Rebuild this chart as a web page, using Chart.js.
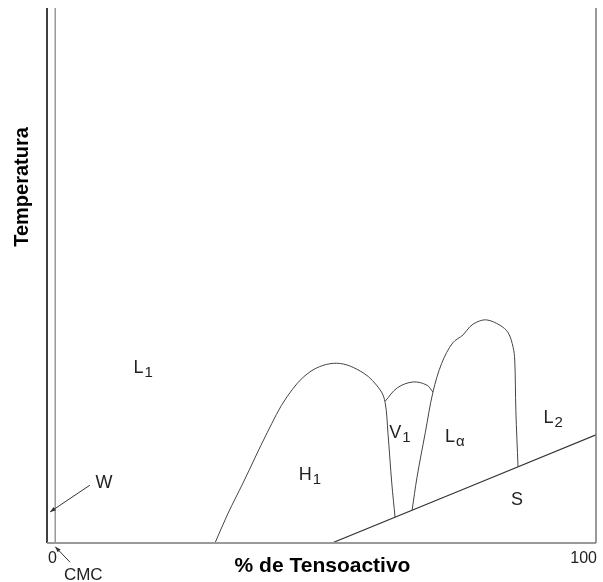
<!DOCTYPE html>
<html>
<head>
<meta charset="utf-8">
<script src="https://cdn.jsdelivr.net/npm/chart.js@4/dist/chart.umd.min.js"></script>
<style>
  html, body { margin: 0; padding: 0; background: #fff; }
</style>
</head>
<body>
<canvas id="phaseChart" width="603" height="582"></canvas>
<script>
// Diagrama de fases: x = % de tensoactivo, y = temperatura (escala relativa 0-100)
const xTickValues = [0, 100];
const xTickLabels = ['0', '100'];

const cmcLine = [{ x: 1.5, y: 0 }, { x: 1.5, y: 100 }];

// frontera de la fase hexagonal H1
const h1Boundary = [
  { x: 30.6, y: 0 }, { x: 33.0, y: 5.6 }, { x: 35.7, y: 11.2 }, { x: 40.1, y: 20.6 },
  { x: 43.7, y: 27.3 }, { x: 47.9, y: 32.0 }, { x: 52.8, y: 33.6 }, { x: 57.6, y: 31.8 },
  { x: 60.7, y: 28.6 }, { x: 61.6, y: 26.2 }, { x: 62.1, y: 20.6 }, { x: 62.8, y: 11.2 },
  { x: 63.4, y: 4.8 }
];

// techo de la fase cúbica V1
const v1Top = [
  { x: 61.6, y: 26.5 }, { x: 63.8, y: 29.0 }, { x: 66.7, y: 30.1 }, { x: 69.2, y: 29.5 },
  { x: 70.3, y: 28.2 }
];

// lado derecho de V1 y contorno de la fase laminar
const lamellarBoundary = [
  { x: 66.5, y: 6.1 }, { x: 67.4, y: 12.3 }, { x: 68.9, y: 20.6 }, { x: 70.3, y: 28.2 },
  { x: 71.9, y: 33.6 }, { x: 73.9, y: 37.4 }, { x: 75.8, y: 38.9 }, { x: 77.0, y: 40.4 },
  { x: 78.3, y: 41.3 }, { x: 80.1, y: 41.7 }, { x: 82.5, y: 40.7 }, { x: 84.0, y: 39.3 },
  { x: 84.9, y: 36.6 }, { x: 85.2, y: 34.2 }, { x: 85.4, y: 24.8 }, { x: 85.8, y: 14.2 }
];

// límite del sólido S
const solidLine = [{ x: 51.9, y: 0 }, { x: 100, y: 20.2 }];

// rótulos de las regiones: [texto, subíndice, x, y]
const phaseLabels = [
  ['L', '1', 17.5, 32.7],
  ['W', '', 10.4, 11.2],
  ['H', '1', 47.9, 12.7],
  ['V', '1', 64.3, 20.6],
  ['L', 'α', 74.3, 19.8],
  ['L', '2', 92.2, 23.4],
  ['S', '', 85.6, 8.0]
];

// flechas [desde, hasta]
const arrows = [
  [{ x: 7.8, y: 10.8 }, { x: 0.55, y: 5.8 }],
  [{ x: 4.2, y: -3.6 }, { x: 1.5, y: -0.7 }]
];

const FONT = '"Liberation Sans", Arial, sans-serif';

function curve(data, color, width) {
  return {
    data: data,
    showLine: true,
    borderColor: color,
    borderWidth: width,
    pointRadius: 0,
    tension: 0.35,
    fill: false
  };
}

const overlay = {
  id: 'overlay',
  afterDatasetsDraw(chart) {
    const { ctx, chartArea: a, scales: { x, y } } = chart;
    ctx.save();

    // ejes: izquierdo negro, inferior y derecho grises
    ctx.lineWidth = 1.5;
    ctx.strokeStyle = '#000';
    ctx.beginPath();
    ctx.moveTo(a.left, a.top);
    ctx.lineTo(a.left, a.bottom);
    ctx.stroke();
    ctx.strokeStyle = '#999';
    ctx.lineWidth = 2;
    ctx.beginPath();
    ctx.moveTo(a.left, a.bottom);
    ctx.lineTo(a.right, a.bottom);
    ctx.stroke();
    ctx.strokeStyle = '#777';
    ctx.lineWidth = 1.5;
    ctx.beginPath();
    ctx.moveTo(a.right, a.top);
    ctx.lineTo(a.right, a.bottom);
    ctx.stroke();

    // flechas
    ctx.strokeStyle = '#333';
    ctx.fillStyle = '#333';
    ctx.lineWidth = 1;
    arrows.forEach(([p0, p1]) => {
      const x0 = x.getPixelForValue(p0.x), y0 = y.getPixelForValue(p0.y);
      const x1 = x.getPixelForValue(p1.x), y1 = y.getPixelForValue(p1.y);
      ctx.beginPath();
      ctx.moveTo(x0, y0);
      ctx.lineTo(x1, y1);
      ctx.stroke();
      const ang = Math.atan2(y1 - y0, x1 - x0);
      ctx.beginPath();
      ctx.moveTo(x1, y1);
      ctx.lineTo(x1 - 6 * Math.cos(ang - 0.35), y1 - 6 * Math.sin(ang - 0.35));
      ctx.lineTo(x1 - 6 * Math.cos(ang + 0.35), y1 - 6 * Math.sin(ang + 0.35));
      ctx.closePath();
      ctx.fill();
    });

    // rótulos de fases con subíndice
    ctx.fillStyle = '#222';
    ctx.textBaseline = 'middle';
    ctx.textAlign = 'left';
    phaseLabels.forEach(([txt, sub, vx, vy]) => {
      ctx.font = '18px ' + FONT;
      const w0 = ctx.measureText(txt).width;
      ctx.font = '15px ' + FONT;
      const w1 = sub ? ctx.measureText(sub).width + 1 : 0;
      const px = x.getPixelForValue(vx) - (w0 + w1) / 2;
      const py = y.getPixelForValue(vy);
      ctx.font = '18px ' + FONT;
      ctx.fillText(txt, px, py);
      if (sub) {
        ctx.font = '15px ' + FONT;
        ctx.fillText(sub, px + w0 + 1, py + 5);
      }
    });

    // marcas del eje x
    ctx.font = '16px ' + FONT;
    ctx.fillStyle = '#222';
    ctx.textBaseline = 'top';
    xTickValues.forEach((v, i) => {
      ctx.textAlign = i === 0 ? 'left' : 'right';
      ctx.fillText(xTickLabels[i], x.getPixelForValue(v) + 1, a.bottom + 8);
    });
    ctx.font = '17px ' + FONT;
    ctx.textAlign = 'center';
    ctx.textBaseline = 'middle';
    ctx.fillText('CMC', x.getPixelForValue(6.6), y.getPixelForValue(-6.0));

    // títulos de los ejes
    ctx.fillStyle = '#000';
    ctx.font = 'bold 21px ' + FONT;
    ctx.fillText('% de Tensoactivo', (a.left + a.right) / 2 + 1, a.bottom + 23);
    ctx.font = 'bold 20px ' + FONT;
    ctx.translate(22, 187);
    ctx.rotate(-Math.PI / 2);
    ctx.fillText('Temperatura', 0, 0);

    ctx.restore();
  }
};

new Chart(document.getElementById('phaseChart'), {
  type: 'scatter',
  data: {
    datasets: [
      curve(cmcLine, '#999', 1.5),
      curve(h1Boundary, '#444', 1),
      curve(v1Top, '#444', 1),
      curve(lamellarBoundary, '#444', 1),
      curve(solidLine, '#333', 1.2)
    ]
  },
  options: {
    responsive: false,
    animation: false,
    layout: { padding: { left: 47, right: 7, top: 8, bottom: 39 } },
    scales: {
      x: { type: 'linear', min: 0, max: 100, display: false },
      y: { type: 'linear', min: 0, max: 100, display: false }
    },
    plugins: { legend: { display: false }, tooltip: { enabled: false } }
  },
  plugins: [overlay]
});
</script>
</body>
</html>
